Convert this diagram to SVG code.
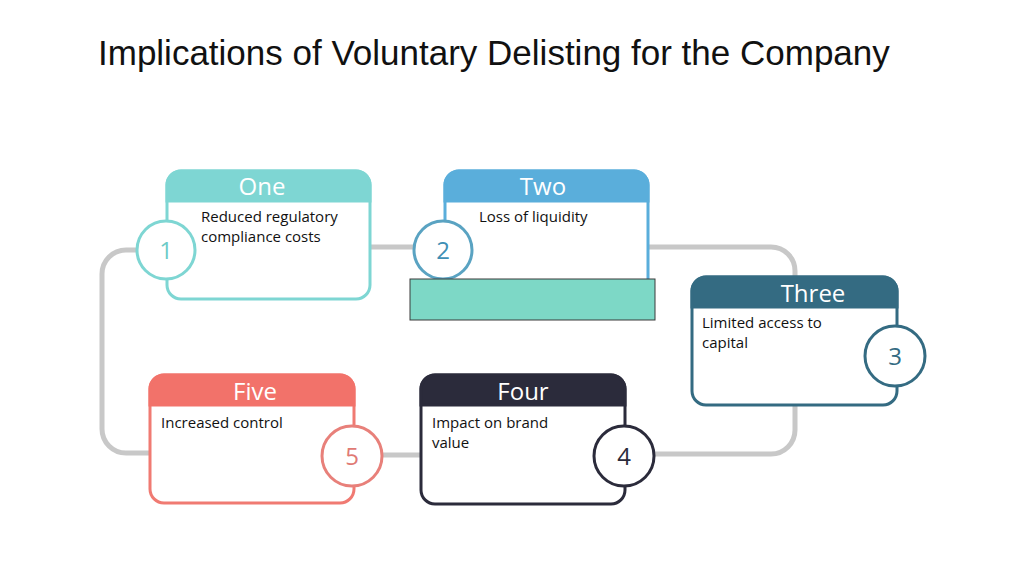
<svg xmlns="http://www.w3.org/2000/svg" width="1024" height="576" viewBox="0 0 1024 576">
<style>
.title{font-family:"Liberation Sans",Arial,sans-serif;font-size:35px;fill:#111}
.hdr{font-family:"Open Sans","Liberation Sans",sans-serif;font-size:24px;fill:#fff;text-anchor:middle}
.body{font-family:"Open Sans","Liberation Sans",sans-serif;font-size:15px;fill:#111}
.num{font-family:"Open Sans","Liberation Sans",sans-serif;font-size:24px;text-anchor:middle}
.box{fill:#fff;stroke-width:3}
.circ{fill:#fff;stroke-width:3}
.conn{fill:none;stroke:#c8c8c8;stroke-width:5}
</style>
<rect width="1024" height="576" fill="#fff"/>
<text class="title" x="98" y="65">Implications of Voluntary Delisting for the Company</text>
<g id="connectors">
<path class="conn" d="M150 453 H126 A24 24 0 0 1 102 429 V274 A24 24 0 0 1 126 250 H137"/>
<path class="conn" d="M370 247 H414"/>
<path class="conn" d="M648 247 H771 A24 24 0 0 1 795 271 V277"/>
<path class="conn" d="M795 405 V430 A24 24 0 0 1 771 454 H654"/>
<path class="conn" d="M421 455 H382"/>
</g>
<g id="node-one">
<rect class="box" x="167" y="171" width="203" height="128" rx="14" stroke="#7ed6d3"/>
<path d="M167 201 V185 A14 14 0 0 1 181 171 H356 A14 14 0 0 1 370 185 V201 Z" fill="#7ed6d3" stroke="#7ed6d3" stroke-width="3"/>
<text class="hdr" x="262" y="195">One</text>
<text class="body" x="201" y="222">Reduced regulatory</text>
<text class="body" x="201" y="242">compliance costs</text>
<circle class="circ" cx="166" cy="250" r="29" stroke="#7ed6d3"/>
<text class="num" x="166" y="259" fill="#6ccbc7">1</text>
</g>
<g id="node-two">
<rect class="box" x="445" y="171" width="203" height="128" rx="14" stroke="#5aaedb"/>
<path d="M445 201 V185 A14 14 0 0 1 459 171 H634 A14 14 0 0 1 648 185 V201 Z" fill="#5aaedb" stroke="#5aaedb" stroke-width="3"/>
<text class="hdr" x="543" y="195">Two</text>
<text class="body" x="479" y="222">Loss of liquidity</text>
<circle class="circ" cx="443" cy="250" r="29" stroke="#5aa3c2"/>
<text class="num" x="443" y="259" fill="#3f8fb5">2</text>
</g>
<rect id="overlay" x="410" y="279" width="245" height="41" fill="#7dd8c6" stroke="#3a3a3a" stroke-width="1"/>
<g id="node-three">
<rect class="box" x="692" y="277" width="205" height="128" rx="14" stroke="#346b82"/>
<path d="M692 307 V291 A14 14 0 0 1 706 277 H883 A14 14 0 0 1 897 291 V307 Z" fill="#346b82" stroke="#346b82" stroke-width="3"/>
<text class="hdr" x="813" y="302">Three</text>
<text class="body" x="702" y="328">Limited access to</text>
<text class="body" x="702" y="348">capital</text>
<circle class="circ" cx="895" cy="356" r="30" stroke="#346b82"/>
<text class="num" x="895" y="365" fill="#346b82">3</text>
</g>
<g id="node-four">
<rect class="box" x="421" y="375" width="204" height="129" rx="14" stroke="#2b2b3b"/>
<path d="M421 405 V389 A14 14 0 0 1 435 375 H611 A14 14 0 0 1 625 389 V405 Z" fill="#2b2b3b" stroke="#2b2b3b" stroke-width="3"/>
<text class="hdr" x="523" y="400">Four</text>
<text class="body" x="432" y="428">Impact on brand</text>
<text class="body" x="432" y="448">value</text>
<circle class="circ" cx="624" cy="456" r="30" stroke="#2b2b3b"/>
<text class="num" x="624" y="465" fill="#2b2b3b">4</text>
</g>
<g id="node-five">
<rect class="box" x="150" y="375" width="204" height="128" rx="14" stroke="#f07a72"/>
<path d="M150 405 V389 A14 14 0 0 1 164 375 H340 A14 14 0 0 1 354 389 V405 Z" fill="#f2726a" stroke="#f2726a" stroke-width="3"/>
<text class="hdr" x="255" y="400">Five</text>
<text class="body" x="161" y="428">Increased control</text>
<circle class="circ" cx="352" cy="456" r="30" stroke="#e8807a"/>
<text class="num" x="352" y="465" fill="#e07a74">5</text>
</g>
</svg>
